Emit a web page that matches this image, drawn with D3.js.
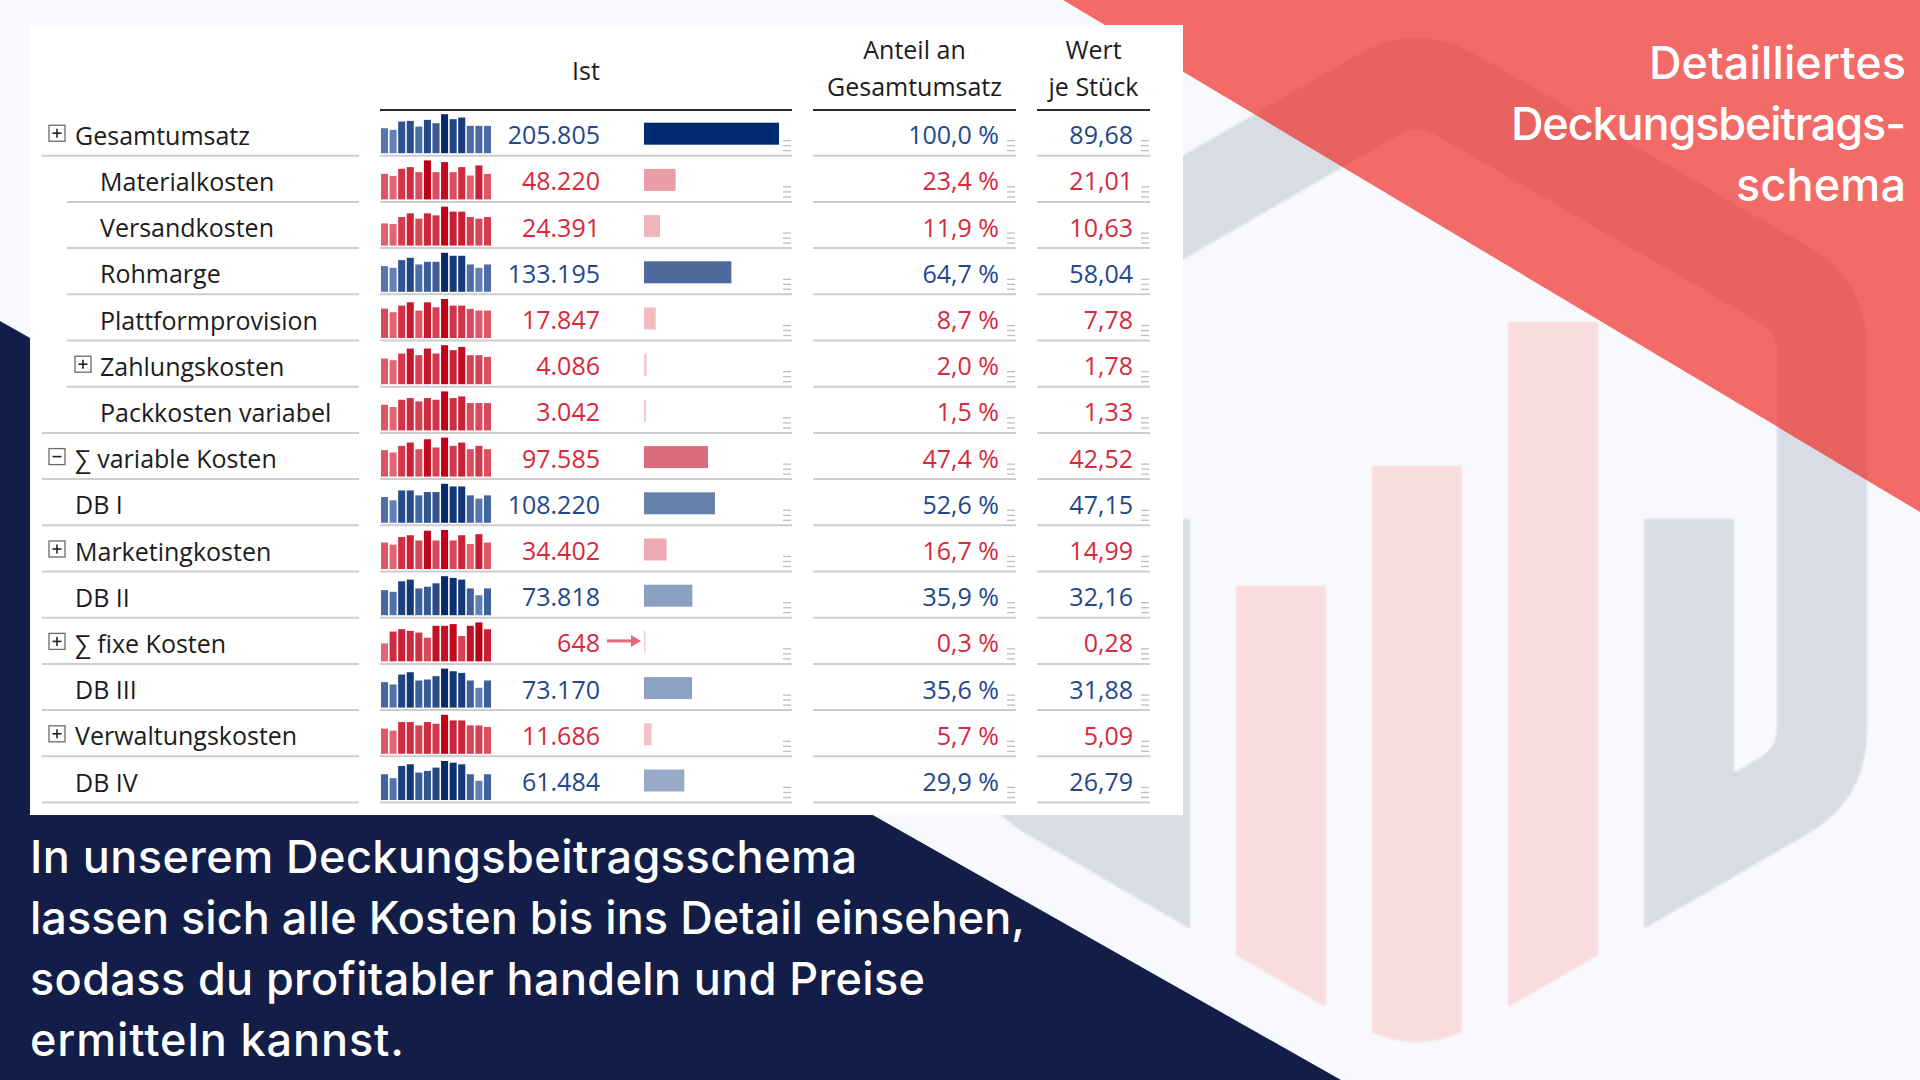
<!DOCTYPE html>
<html><head><meta charset="utf-8">
<script src="https://cdn.jsdelivr.net/npm/d3@7"></script>
<style>html,body{margin:0;padding:0;background:#f8f9fd;overflow:hidden}svg{display:block}</style>
</head><body>
<svg id="c" width="1920" height="1080"></svg>
<script>
// ---------------- DATA ----------------
const labels = ["Gesamtumsatz","Materialkosten","Versandkosten","Rohmarge","Plattformprovision","Zahlungskosten","Packkosten variabel","∑ variable Kosten","DB I","Marketingkosten","DB II","∑ fixe Kosten","DB III","Verwaltungskosten","DB IV"];
const levels = [0,1,1,1,1,1,1,0,0,0,0,0,0,0,0];
const toggles = ["+","","","","","+","","−","","+","","+","","+",""];
const kinds = ["umsatz","kosten","kosten","marge","kosten","kosten","kosten","kosten","marge","kosten","marge","kosten","marge","kosten","marge"];
const istValues = [205805,48220,24391,133195,17847,4086,3042,97585,108220,34402,73818,648,73170,11686,61484];
const shareValues = [100.0,23.4,11.9,64.7,8.7,2.0,1.5,47.4,52.6,16.7,35.9,0.3,35.6,5.7,29.9];
const perUnitValues = [89.68,21.01,10.63,58.04,7.78,1.78,1.33,42.52,47.15,14.99,32.16,0.28,31.88,5.09,26.79];
// monthly trend (13 periods, relative values read from the sparklines)
const trendGesamtumsatz = [75,70,95,97,80,100,90,117,102,107,82,82,82];
const trendMaterial = [76,70,91,96,81,116,81,111,81,96,71,101,76];
const trendVersand = [66,64,85,96,80,96,90,116,101,101,85,80,85];
const trendRohmarge = [77,72,95,102,82,90,90,117,108,108,82,72,82];
const trendPlattform = [89,78,98,108,83,108,93,118,98,98,88,83,83];
const trendZahlung = [77,72,92,107,87,107,92,117,102,112,87,87,82];
const trendPack = [77,70,92,97,87,97,92,117,97,102,82,82,82];
const trendVarKosten = [80,73,93,103,83,113,88,118,93,103,83,93,83];
const trendDB1 = [78,68,98,98,83,93,93,118,110,110,83,73,83];
const trendMarketing = [76,70,92,97,82,110,82,112,82,97,72,100,76];
const trendDB2 = [74,69,100,105,79,84,94,115,110,105,79,59,79];
const trendFixKosten = [53,88,95,90,85,70,105,105,110,75,105,115,95];
const trendDB3 = [77,70,100,107,82,85,95,118,110,105,82,60,82];
const trendVerwaltung = [76,70,96,96,86,96,91,118,101,101,86,86,81];
const trendDB4 = [78,66,103,108,83,88,98,118,113,108,78,58,78];
const trends = [trendGesamtumsatz,trendMaterial,trendVersand,trendRohmarge,trendPlattform,trendZahlung,trendPack,trendVarKosten,trendDB1,trendMarketing,trendDB2,trendFixKosten,trendDB3,trendVerwaltung,trendDB4];
const headerIst = ["Ist"];
const headerShare = ["Anteil an","Gesamtumsatz"];
const headerUnit = ["Wert","je Stück"];
const titleLines = ["Detailliertes","Deckungsbeitrags-","schema"];
const textLines = ["In unserem Deckungsbeitragsschema","lassen sich alle Kosten bis ins Detail einsehen,","sodass du profitabler handeln und Preise","ermitteln kannst."];

// ---------------- SETUP ----------------
const svg = d3.select("#c");
const defs = svg.append("defs");
const de = d3.formatLocale({decimal:",",thousands:".",grouping:[3],currency:["","€"]});
const fInt = de.format(",.0f"), fPct = de.format(",.1f"), fUnit = de.format(",.2f");

svg.append("rect").attr("width",1920).attr("height",1080).attr("fill","#f8f9fd");

// ---------------- BACKGROUND LOGO ----------------
const LOGO = {cx:1417, cy:540, outerW:450, innerW:360, barW:90, step:136};
const logoBarTops = [519,586,466,322,519];
const logoBarFill = ["#d9dce4","#f9dcde","#f9dcde","#f9dcde","#d9dce4"];
function hexPts(cx,cy,w){const R=w/Math.cos(Math.PI/6);return [[cx,cy-R],[cx+w,cy-R/2],[cx+w,cy+R/2],[cx,cy+R],[cx-w,cy+R/2],[cx-w,cy-R/2]];}
function roundedPath(pts,r){
  const n=pts.length; let d="";
  for(let i=0;i<n;i++){
    const p0=pts[(i-1+n)%n],p1=pts[i],p2=pts[(i+1)%n];
    const l1=Math.hypot(p0[0]-p1[0],p0[1]-p1[1]), l2=Math.hypot(p2[0]-p1[0],p2[1]-p1[1]);
    const a=[p1[0]+(p0[0]-p1[0])/l1*r,p1[1]+(p0[1]-p1[1])/l1*r];
    const b=[p1[0]+(p2[0]-p1[0])/l2*r,p1[1]+(p2[1]-p1[1])/l2*r];
    d+=(i===0?"M":"L")+a[0]+","+a[1]+"Q"+p1[0]+","+p1[1]+" "+b[0]+","+b[1];
  }
  return d+"Z";
}
const outerD = roundedPath(hexPts(LOGO.cx,LOGO.cy,LOGO.outerW),70);
const innerD = roundedPath(hexPts(LOGO.cx,LOGO.cy,LOGO.innerW),20);
defs.append("clipPath").attr("id","hexClip").append("path").attr("d",outerD);
const rc = defs.append("clipPath").attr("id","ringClip");
const barX0 = LOGO.cx - 2*LOGO.step - LOGO.barW/2;
rc.append("rect").attr("x",0).attr("y",0).attr("width",barX0+LOGO.barW).attr("height",1080);
rc.append("rect").attr("x",LOGO.cx+2*LOGO.step-LOGO.barW/2).attr("y",0).attr("width",600).attr("height",1080);
rc.append("rect").attr("x",0).attr("y",0).attr("width",1920).attr("height",LOGO.cy);
defs.append("filter").attr("id","soft").attr("x","-5%").attr("y","-5%").attr("width","110%").attr("height","110%")
  .append("feGaussianBlur").attr("stdDeviation",1.2);

function drawLogo(g, greyFill){
  g.append("path").attr("d",outerD+innerD).attr("fill-rule","evenodd").attr("fill",greyFill).attr("clip-path","url(#ringClip)");
  const bg = g.append("g").attr("clip-path","url(#hexClip)");
  logoBarTops.forEach((t,i)=>{
    bg.append("rect").attr("x",barX0+i*LOGO.step).attr("y",t).attr("width",LOGO.barW).attr("height",1080-t)
      .attr("fill", logoBarFill[i]);
  });
}
const logo = svg.append("g").attr("filter","url(#soft)");
drawLogo(logo, "#d9dce4");

// red triangle (semi transparent over the logo)
svg.append("polygon").attr("points","1063,0 1920,0 1920,512").attr("fill","rgb(239,40,32)").attr("fill-opacity",0.68);
// navy triangle
svg.append("polygon").attr("points","0,321 1341,1080 0,1080").attr("fill","#121e48");

// ---------------- PANEL ----------------
svg.append("rect").attr("x",30).attr("y",25).attr("width",1153).attr("height",790).attr("fill","#ffffff");

const COL = {toggle:[57,83], label:[75,100], lineL:[42,67], lineR:359, sparkL:381, sparkR:491, valR:600,
  barL:644, barMax:135, istL:380, istR:792, pctL:813, pctR:1016, pctTextR:999, unitL:1037, unitR:1150, unitTextR:1133};
const FONT = "'Open Sans', 'Noto Sans', sans-serif";
const txtBlue = "#23488a", txtRed = "#d6293c", txtDark = "#1c1c1c";
const isCost = k => k === "kosten";

const rows = d3.scaleBand().domain(d3.range(labels.length)).range([109.5, 802.5]);
const sep = i => rows(i) + rows.step();
const barScale = d3.scaleLinear().domain([0, d3.max(istValues)]).range([0, COL.barMax]);
const barBlue = d3.interpolateRgb("#d8e1f0","#002b6e");
const barRed = d3.interpolateRgb("#f6cdd0","#c00020");
const sparkX = d3.scaleBand().domain(d3.range(13)).range([COL.sparkL, COL.sparkR]).paddingInner(0.18);

const t = svg.append("g").attr("font-family",FONT).attr("font-size",25);

// headers
t.append("text").attr("x",(COL.istL+COL.istR)/2).attr("y",80).attr("text-anchor","middle").attr("fill",txtDark).text(headerIst[0]);
headerShare.forEach((s,i)=>t.append("text").attr("x",(COL.pctL+COL.pctR)/2).attr("y",59+i*37).attr("text-anchor","middle").attr("fill",txtDark).text(s));
headerUnit.forEach((s,i)=>t.append("text").attr("x",(COL.unitL+COL.unitR)/2).attr("y",59+i*37).attr("text-anchor","middle").attr("fill",txtDark).text(s));
[[COL.istL,COL.istR],[COL.pctL,COL.pctR],[COL.unitL,COL.unitR]].forEach(([a,b])=>
  t.append("line").attr("x1",a).attr("x2",b).attr("y1",110).attr("y2",110).attr("stroke","#2b2b2b").attr("stroke-width",2));

// rows
labels.forEach((lab,i)=>{
  const y = sep(i), lv = levels[i], k = kinds[i], col = isCost(k)?txtRed:txtBlue;
  const g = t.append("g");
  const indentLine = lv===1 && levels[i+1]===1;
  g.append("line").attr("x1",COL.lineL[indentLine?1:0]).attr("x2",COL.lineR).attr("y1",y).attr("y2",y).attr("stroke","#cdcdcd").attr("stroke-width",2);
  g.append("line").attr("x1",COL.istL).attr("x2",COL.istR).attr("y1",y).attr("y2",y).attr("stroke","#cdcdcd").attr("stroke-width",2);
  g.append("line").attr("x1",COL.pctL).attr("x2",COL.pctR).attr("y1",y).attr("y2",y).attr("stroke","#cdcdcd").attr("stroke-width",2);
  g.append("line").attr("x1",COL.unitL).attr("x2",COL.unitR).attr("y1",y).attr("y2",y).attr("stroke","#cdcdcd").attr("stroke-width",2);
  if (toggles[i]) {
    const cx = COL.toggle[lv], cy = y-22.5, s = 16;
    g.append("rect").attr("x",cx-s/2).attr("y",cy-s/2).attr("width",s).attr("height",s).attr("fill","#fff").attr("stroke","#6b6b6b").attr("stroke-width",1.3);
    g.append("line").attr("x1",cx-4.5).attr("x2",cx+4.5).attr("y1",cy).attr("y2",cy).attr("stroke","#222").attr("stroke-width",1.6);
    if (toggles[i]==="+") g.append("line").attr("x1",cx).attr("x2",cx).attr("y1",cy-4.5).attr("y2",cy+4.5).attr("stroke","#222").attr("stroke-width",1.6);
  }
  g.append("text").attr("x",COL.label[lv]).attr("y",y-11).attr("fill",txtDark).text(lab);
  const tr = trends[i];
  const sy = d3.scaleLinear().domain([0,d3.max(tr)]).range([0,39]);
  const sc = d3.scaleLinear().domain(d3.extent(tr)).range(isCost(k)?["#e46474","#bd0018"]:["#6080b6","#042a6b"]).interpolate(d3.interpolateRgb);
  g.selectAll(".sp").data(tr).join("rect").attr("x",(d,j)=>sparkX(j)).attr("width",sparkX.bandwidth())
    .attr("y",d=>y-2.5-sy(d)).attr("height",d=>sy(d)).attr("fill",d=>sc(d));
  g.append("text").attr("x",COL.valR).attr("y",y-11.5).attr("text-anchor","end").attr("fill",col).text(fInt(istValues[i]));
  const w = Math.max(barScale(istValues[i]),1.5);
  const frac = istValues[i]/d3.max(istValues);
  g.append("rect").attr("x",COL.barL).attr("y",y-33).attr("width",w).attr("height",22)
    .attr("fill",isCost(k)?barRed(frac):barBlue(frac));
  if (barScale(istValues[i]) < 1) {
    const ay = y-23;
    g.append("line").attr("x1",COL.barL-37).attr("x2",COL.barL-10).attr("y1",ay).attr("y2",ay).attr("stroke","#e2687a").attr("stroke-width",3);
    g.append("path").attr("d",`M${COL.barL-3},${ay}L${COL.barL-13},${ay-6}L${COL.barL-13},${ay+6}Z`).attr("fill","#e2687a");
  }
  g.append("text").attr("x",COL.pctTextR).attr("y",y-11.5).attr("text-anchor","end").attr("fill",col).text(fPct(shareValues[i])+" %");
  g.append("text").attr("x",COL.unitTextR).attr("y",y-11.5).attr("text-anchor","end").attr("fill",col).text(fUnit(perUnitValues[i]));
  [COL.istR, COL.pctR, COL.unitR].forEach(xr=>{
    [15,10,5].forEach(dy=>g.append("line").attr("x1",xr-9).attr("x2",xr-1).attr("y1",y-dy).attr("y2",y-dy).attr("stroke","#bdbdbd").attr("stroke-width",1.3));
  });
});

// ---------------- TITLE & TEXT ----------------
const titleW = [257,395,170];
titleLines.forEach((s,i)=>svg.append("text").attr("x",1906).attr("y",79+i*61).attr("text-anchor","end")
  .attr("font-family","Inter, 'Noto Sans', sans-serif").attr("font-weight",500).attr("font-size",45).attr("fill","#ffffff")
  .attr("textLength",titleW[i]).attr("lengthAdjust","spacing").text(s));
const textW = [827,995,895,374];
textLines.forEach((s,i)=>svg.append("text").attr("x",30).attr("y",873+i*61)
  .attr("font-family","Inter, 'Noto Sans', sans-serif").attr("font-weight",500).attr("font-size",45).attr("fill","#ffffff")
  .attr("textLength",textW[i]).attr("lengthAdjust","spacing").text(s));
</script></body></html>
